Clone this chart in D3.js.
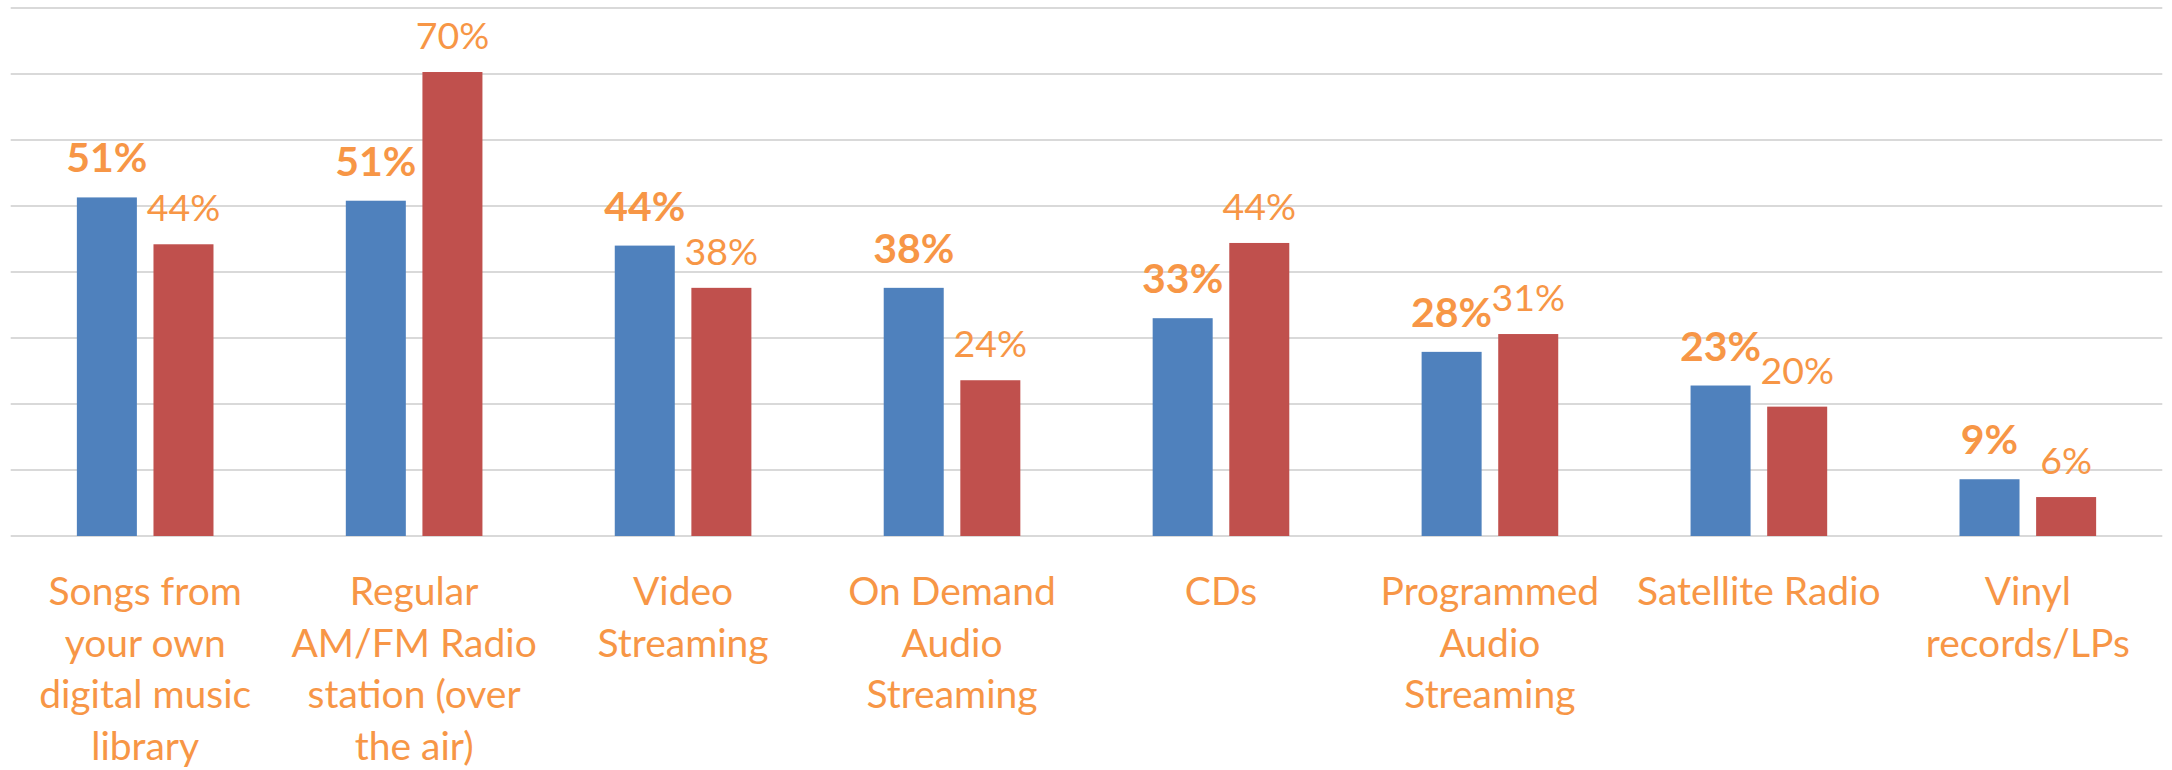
<!DOCTYPE html>
<html>
<head>
<meta charset="utf-8">
<script src="https://cdn.jsdelivr.net/npm/d3@7"></script>
<style>
  html, body { margin: 0; padding: 0; background: #ffffff; }
  svg { display: block; }
  text { font-family: Lato, "Open Sans", sans-serif; }
</style>
</head>
<body>
<svg id="chart" width="2172" height="770"></svg>
<script>
// ---- data ----
const categories = [
  ["Songs from", "your own", "digital music", "library"],
  ["Regular", "AM/FM Radio", "station (over", "the air)"],
  ["Video", "Streaming"],
  ["On Demand", "Audio", "Streaming"],
  ["CDs"],
  ["Programmed", "Audio", "Streaming"],
  ["Satellite Radio"],
  ["Vinyl", "records/LPs"]
];
const seriesBlue = [51.3, 50.8, 44.0, 37.6, 33.0, 27.9, 22.8, 8.6];
const seriesRed  = [44.2, 70.3, 37.6, 23.6, 44.4, 30.6, 19.6, 5.9];
const yTicks = [0, 10, 20, 30, 40, 50, 60, 70, 80];

// ---- layout ----
const W = 2172, H = 770;
const plotLeft = 10.7, plotRight = 2162.3, plotTop = 8, plotBottom = 536;
const colorBlue = "#4F81BD", colorRed = "#C0504D", textColor = "#F79646";

const svg = d3.select("#chart");

const keys = d3.range(categories.length);
const x0 = d3.scaleBand()
  .domain(keys)
  .range([plotLeft, plotRight])
  .paddingInner(0.492)
  .paddingOuter(0.246);

const x1 = d3.scaleBand()
  .domain(["blue", "red"])
  .range([0, x0.bandwidth()])
  .paddingInner(0.2167)
  .paddingOuter(0);

const y = d3.scaleLinear().domain([0, 80]).range([plotBottom, plotTop]);

// gridlines
svg.append("g").selectAll("line")
  .data(yTicks)
  .join("line")
  .attr("x1", plotLeft).attr("x2", plotRight)
  .attr("y1", d => y(d)).attr("y2", d => y(d))
  .attr("stroke", "#d9d9d9")
  .attr("stroke-width", 2);

const rows = keys.map(i => ({
  i,
  vals: [
    { key: "blue", v: seriesBlue[i], color: colorBlue, bold: true },
    { key: "red", v: seriesRed[i], color: colorRed, bold: false }
  ]
}));

const groups = svg.append("g").selectAll("g")
  .data(rows)
  .join("g")
  .attr("transform", d => `translate(${x0(d.i)},0)`);

groups.selectAll("rect")
  .data(d => d.vals)
  .join("rect")
  .attr("x", d => x1(d.key))
  .attr("width", x1.bandwidth())
  .attr("y", d => y(d.v))
  .attr("height", d => y(0) - y(d.v))
  .attr("fill", d => d.color);

// value labels
const fmt = v => Math.round(v) + "%";
groups.selectAll("text.val")
  .data(d => d.vals)
  .join("text")
  .attr("class", "val")
  .attr("x", d => x1(d.key) + x1.bandwidth() / 2)
  .attr("y", d => y(d.v) - (d.bold ? 25 : 23))
  .attr("text-anchor", "middle")
  .attr("fill", textColor)
  .attr("font-size", d => d.bold ? 41 : 37.5)
  .attr("font-weight", d => d.bold ? 700 : 400)
  .text(d => fmt(d.v));

// category labels
const catText = svg.append("g").selectAll("text")
  .data(keys)
  .join("text")
  .attr("x", i => x0(i) + x0.bandwidth() / 2)
  .attr("y", 605)
  .attr("text-anchor", "middle")
  .attr("fill", textColor)
  .attr("font-size", 39);

catText.selectAll("tspan")
  .data(i => categories[i].map((t, k) => ({ t, k, i })))
  .join("tspan")
  .attr("x", d => x0(d.i) + x0.bandwidth() / 2)
  .attr("dy", d => d.k === 0 ? 0 : 51.7)
  .text(d => d.t);
</script>
</body>
</html>
